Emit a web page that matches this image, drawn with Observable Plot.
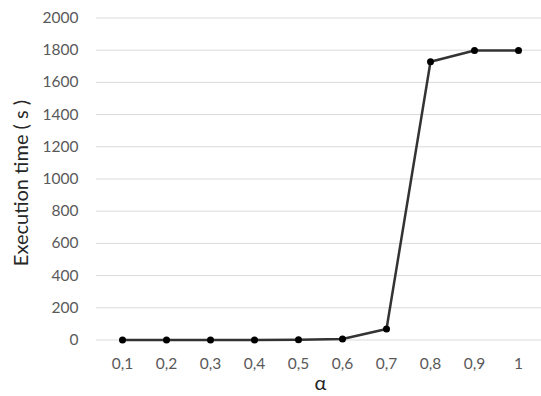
<!DOCTYPE html>
<html>
<head>
<meta charset="utf-8">
<script src="https://cdn.jsdelivr.net/npm/d3@7"></script>
<script src="https://cdn.jsdelivr.net/npm/@observablehq/plot@0.6"></script>
<style>
  html, body { margin: 0; padding: 0; background: #fff; }
  #chart svg { display: block; }
</style>
</head>
<body>
<div id="chart"></div>
<script>
const alphaLabels = ["0,1", "0,2", "0,3", "0,4", "0,5", "0,6", "0,7", "0,8", "0,9", "1"];
const execTimes = [0, 0, 0, 0, 1, 6, 68, 1728, 1798, 1798];
const yTicks = [0, 200, 400, 600, 800, 1000, 1200, 1400, 1600, 1800, 2000];

const data = alphaLabels.map((a, i) => ({alpha: a, time: execTimes[i]}));

const chart = Plot.plot({
  width: 541,
  height: 396,
  marginLeft: 96,
  marginRight: -3,
  marginTop: 17.5,
  marginBottom: 56.5,
  style: {fontFamily: "Lato, sans-serif", fontSize: "15px", background: "#fff"},
  x: {type: "point", domain: alphaLabels, padding: 0.5},
  y: {domain: [0, 2000]},
  marks: [
    Plot.gridY(yTicks, {stroke: "#d9d9d9", strokeOpacity: 1, strokeWidth: 1}),
    Plot.axisY(yTicks, {tickSize: 0, tickPadding: 18, fill: "#595959", fontSize: 15.5, tickFormat: d3.format("d"), label: null}),
    Plot.axisX({tickSize: 0, tickPadding: 18, fill: "#595959", fontSize: 15.5, label: null}),
    Plot.line(data, {x: "alpha", y: "time", stroke: "#333333", strokeWidth: 2.5}),
    Plot.dot(data, {x: "alpha", y: "time", r: 3.5, fill: "#000"}),
    Plot.text(["Execution time ( s )"], {frameAnchor: "left", textAnchor: "middle", dx: -75, dy: 4, rotate: -90, fill: "#262626", fontSize: 20}),
    Plot.text(["α"], {frameAnchor: "bottom", dy: 50, fill: "#262626", fontSize: 20})
  ]
});
document.getElementById("chart").append(chart);
</script>
</body>
</html>
